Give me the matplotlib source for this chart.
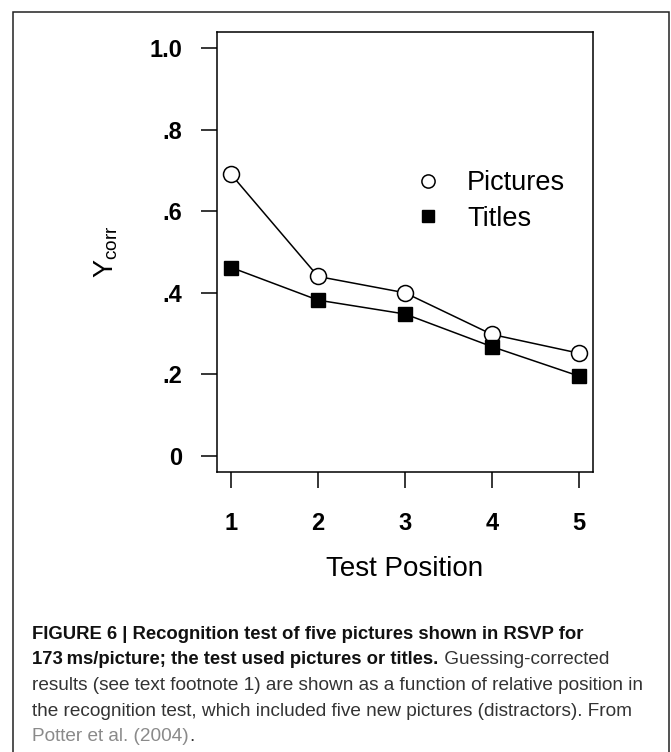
import matplotlib
matplotlib.use("Agg")
import matplotlib.pyplot as plt
from matplotlib.lines import Line2D
from matplotlib.patches import Rectangle

plt.rcParams['font.family'] = ['Liberation Sans', 'DejaVu Sans']
plt.rcParams['mathtext.default'] = 'regular'

# === data ===
positions = [1, 2, 3, 4, 5]
pictures = [0.69, 0.44, 0.40, 0.298, 0.252]
titles = [0.462, 0.382, 0.348, 0.268, 0.196]
y_ticks = [0, 0.2, 0.4, 0.6, 0.8, 1.0]
y_tick_labels = ["0", ".2", ".4", ".6", ".8", "1.0"]

caption_bold_1 = "FIGURE 6 | Recognition test of five pictures shown in RSVP for"
caption_bold_2 = "173\u2009ms/picture; the test used pictures or titles."
caption_reg_2 = " Guessing-corrected"
caption_lines = [
    "results (see text footnote 1) are shown as a function of relative position in",
    "the recognition test, which included five new pictures (distractors). From",
]
caption_ref = "Potter et al. (2004)"

W, H = 671, 752
fig = plt.figure(figsize=(W / 100, H / 100), dpi=100)
ax = fig.add_axes([217.3 / W, 1 - 472.3 / H, 375.4 / W, 440.6 / H])

ax.plot(positions, pictures, color='black', lw=1.1, marker='o', ms=11.5,
        mfc='white', mec='black', mew=1.1, zorder=3)
ax.plot(positions, titles, color='black', lw=1.1, marker='s', ms=10.5,
        mfc='black', mec='black', zorder=3)

ax.set_xlim(0.84, 5.16)
ax.set_ylim(-0.04, 1.04)
ax.set_xticks(positions)
ax.set_xticklabels([str(p) for p in positions])
ax.set_yticks(y_ticks)
ax.set_yticklabels(y_tick_labels)
ax.tick_params(length=11.5, width=1.1, labelsize=17)
ax.tick_params(axis='y', pad=13.5)
ax.tick_params(axis='x', pad=17)
for lab in ax.get_xticklabels() + ax.get_yticklabels():
    lab.set_fontweight('bold')
for s in ax.spines.values():
    s.set_linewidth(1.1)

ax.set_xlabel("Test Position", fontsize=20)
ax.set_ylabel("Y$_{corr}$", fontsize=19.5)
ax.xaxis.set_label_coords(0.5, -0.19)
ax.yaxis.set_label_coords(-0.259, 0.5)

handles = [
    Line2D([], [], ls='none', marker='o', ms=9.5, mfc='white', mec='black', mew=1.1),
    Line2D([], [], ls='none', marker='s', ms=8.5, mfc='black', mec='black'),
]
ax.legend(handles, ["Pictures", "Titles"], loc='center left',
          bbox_to_anchor=(0.525, 0.616), frameon=False, fontsize=19.5,
          handlelength=1.0, handletextpad=0.95, labelspacing=0.35, borderpad=0,
          borderaxespad=0)

# outer frame
fig.patches.append(Rectangle((13 / W, -0.01), 656 / W, 1 - 12 / H + 0.01,
                             transform=fig.transFigure, fill=False,
                             ec='#222222', lw=1.1, clip_on=False))

# caption
x0 = 32.3 / W
fs_b = 13.3
fs = 13.7
base = [639, 664.5, 690, 715.5, 741]
fig.text(x0, 1 - base[0] / H, caption_bold_1, fontsize=fs_b, fontweight='bold',
         color='#111111', va='baseline')
t = fig.text(x0, 1 - base[1] / H, caption_bold_2, fontsize=fs_b, fontweight='bold',
             color='#111111', va='baseline')
fig.canvas.draw()
bb = t.get_window_extent()
fig.text(bb.x1 / W, 1 - base[1] / H, caption_reg_2, fontsize=fs,
         color='#333333', va='baseline')
for i, line in enumerate(caption_lines):
    fig.text(x0, 1 - base[2 + i] / H, line, fontsize=fs, color='#333333',
             va='baseline')
r = fig.text(x0, 1 - base[4] / H, caption_ref, fontsize=fs, color='#8a8a8a',
             va='baseline')
fig.canvas.draw()
bb = r.get_window_extent()
fig.text(bb.x1 / W, 1 - base[4] / H, ".", fontsize=fs, color='#333333',
         va='baseline')

fig.savefig("out.png", dpi=100)
